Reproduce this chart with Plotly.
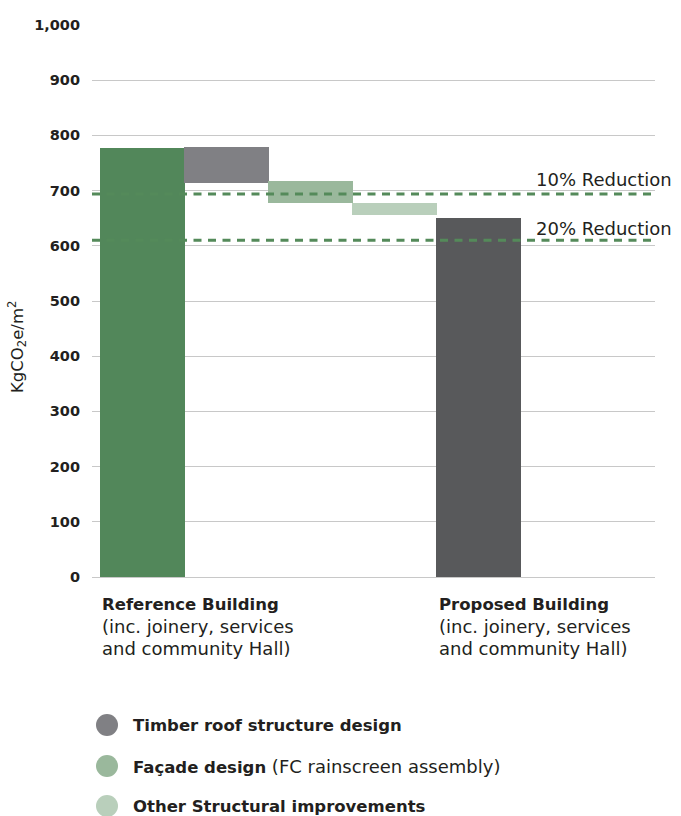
import plotly.graph_objects as go

# ---- data ----
categories = ["Reference Building", "Timber roof structure design", "Façade design",
              "Other Structural improvements", "Proposed Building"]
bar_tops = [778, 779, 717, 677, 650]
bar_bottoms = [0, 714, 678, 656, 0]
bar_colors = ["#52875A", "#808084", "#9AB89C", "#B9CFBB", "#58595B"]
reduction_labels = ["10% Reduction", "20% Reduction"]
reduction_values = [694, 610]
y_ticks = [0, 100, 200, 300, 400, 500, 600, 700, 800, 900, 1000]
x_label_lines = {0: ["<b>Reference Building</b>", "(inc. joinery, services", "and community Hall)"],
                 4: ["<b>Proposed Building</b>", "(inc. joinery, services", "and community Hall)"]}
legend_items = ["<b>Timber roof structure design</b>",
                "<b>Façade design</b> (FC rainscreen assembly)",
                "<b>Other Structural improvements</b>"]
legend_colors = ["#808084", "#9AB89C", "#B9CFBB"]

FONT = "DejaVu Sans"
FS_REG = 18
FS_BOLD = 16.5
TXT = "#231F20"
W, H = 681, 816
ML, MR, MT, MB = 92, 26, 25, 239
PW, PH = W - ML - MR, H - MT - MB


def px_x(px):
    return (px - ML) / PW


def px_y(py):
    return (H - MB - py) / PH


def fmt(s):
    # bold parts slightly smaller to mimic the medium-weight original face
    return s.replace("<b>", '<b><span style="font-size:%gpx">' % FS_BOLD).replace("</b>", "</span></b>")


x_pos = list(range(len(categories)))
fig = go.Figure()
fig.add_trace(go.Bar(
    x=x_pos,
    y=[t - b for t, b in zip(bar_tops, bar_bottoms)],
    base=bar_bottoms,
    width=1.01,
    marker=dict(color=bar_colors, line=dict(width=0)),
    hovertext=categories,
    showlegend=False,
))

for lab, val in zip(reduction_labels, reduction_values):
    fig.add_hline(y=val, line=dict(color="#548A5A", width=3, dash="8px,6.5px"), layer="above")

shifts = [14, 12]
for lab, val, sh in zip(reduction_labels, reduction_values, shifts):
    fig.add_annotation(text=lab, xref="paper", yref="y", x=px_x(534), y=val,
                       xanchor="left", yanchor="middle", yshift=sh, showarrow=False,
                       font=dict(family=FONT, size=FS_REG, color=TXT))

line_y = [604, 626, 648]
for xi, lines in x_label_lines.items():
    for ln, ly in zip(lines, line_y):
        fig.add_annotation(text=fmt(ln), xref="x", yref="paper", x=xi - 0.5, y=px_y(ly),
                           xanchor="left", yanchor="middle", xshift=0, showarrow=False,
                           align="left", font=dict(family=FONT, size=FS_REG, color=TXT))

fig.add_annotation(text="KgCO<sub>2</sub>e/m<sup>2</sup>", xref="paper", yref="paper",
                   x=px_x(17), y=px_y(347), textangle=-90, showarrow=False,
                   xanchor="center", yanchor="middle",
                   font=dict(family=FONT, size=16.5, color=TXT))

legend_y = [725, 766, 806]
for lab, col, ly in zip(legend_items, legend_colors, legend_y):
    fig.add_shape(type="circle", xref="paper", yref="paper", xsizemode="pixel",
                  ysizemode="pixel", xanchor=px_x(107), yanchor=px_y(ly),
                  x0=-11, x1=11, y0=-11, y1=11, fillcolor=col, line=dict(width=0))
    fig.add_annotation(text=fmt(lab), xref="paper", yref="paper", x=px_x(131), y=px_y(ly),
                       xanchor="left", yanchor="middle", showarrow=False,
                       font=dict(family=FONT, size=FS_REG, color=TXT))

fig.update_layout(
    width=W, height=H,
    margin=dict(l=ML, r=MR, t=MT, b=MB),
    paper_bgcolor="white", plot_bgcolor="white",
    bargap=0,
    xaxis=dict(range=[-0.6, 6.1], showticklabels=False, showgrid=False, zeroline=False,
               showline=False, fixedrange=True),
    yaxis=dict(range=[0, 1000], tickvals=y_ticks, tickformat=",d", showgrid=True,
               gridcolor="#C8C8C8", gridwidth=1, zeroline=True, zerolinecolor="#C8C8C8",
               zerolinewidth=1, showline=False, ticks="", ticklabelstandoff=11,
               tickfont=dict(family=FONT, size=14.5, color=TXT, weight="bold")),
    showlegend=False,
)

fig.write_html("out.html")
